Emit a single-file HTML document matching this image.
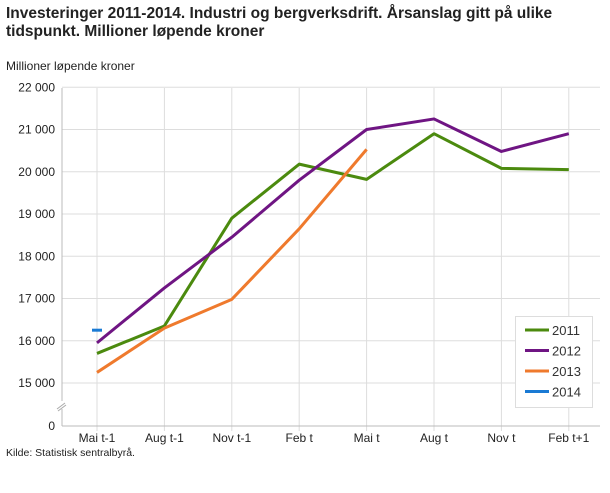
<!DOCTYPE html>
<html><head><meta charset="utf-8"><style>
body{margin:0;background:#fff;font-family:"Liberation Sans","DejaVu Sans",sans-serif;}
svg text{font-family:"Liberation Sans","DejaVu Sans",sans-serif;}
</style></head><body>
<svg width="610" height="488" viewBox="0 0 610 488" id="c">
<text x="6" y="18" font-size="15.5" font-weight="bold" fill="#222">Investeringer 2011-2014. Industri og bergverksdrift. Årsanslag gitt på ulike</text>
<text x="6" y="36" font-size="15.5" font-weight="bold" fill="#222">tidspunkt. Millioner løpende kroner</text>
<text x="6" y="70" font-size="12" fill="#222">Millioner løpende kroner</text>
<text x="6" y="456" font-size="10.5" fill="#222">Kilde: Statistisk sentralbyrå.</text>
<g id="grid"></g><g id="series"></g>
<g>
<rect x="515.5" y="316.5" width="77" height="91" fill="#fff" stroke="#ddd"/>
<g id="leg"></g></g>
</svg>
<script>
const categories=["Mai t-1","Aug t-1","Nov t-1","Feb t","Mai t","Aug t","Nov t","Feb t+1"];
const yTicks=[0,15000,16000,17000,18000,19000,20000,21000,22000];
const yTickLabels=["0","15 000","16 000","17 000","18 000","19 000","20 000","21 000","22 000"];
const seriesNames=["2011","2012","2013","2014"];
const seriesColors=["#4b8a0e","#6f1583","#ef7a2d","#1a7ad4"];
const s2011=[15700,16350,18900,20180,19820,20900,20080,20050];
const s2012=[15950,17250,18450,19800,21000,21250,20480,20900];
const s2013=[15250,16300,16980,18650,20530];
const s2014=[16250];
const NS="http://www.w3.org/2000/svg";
function x(i){return 97+i*67.4;}
function y(v){return v<15000?426-(v/15000)*43:383-(v-15000)*0.04225;}
function mk(t,a,p){const e=document.createElementNS(NS,t);for(const k in a)e.setAttribute(k,a[k]);p.appendChild(e);return e;}
const g=document.getElementById('grid');
yTicks.forEach((v,i)=>{
 const l=mk('line',{x1:62,x2:600,y1:y(v),y2:y(v),stroke:"#ddd"},g);
 
 
 const t=mk('text',{x:55,y:y(v)+4,'font-size':12,'text-anchor':'end',fill:'#222'},g);t.textContent=yTickLabels[i];
 
 
});
categories.forEach((c,i)=>{
 const l=mk('line',{x1:x(i),x2:x(i),y1:88,y2:431,stroke:"#ddd"},g);
 
 
 const t=mk('text',{x:x(i),y:442,'font-size':12,'text-anchor':'middle',fill:'#222'},g);t.textContent=c;
 
 
});
mk('line',{x1:62,x2:62,y1:88,y2:426,stroke:"#bbb"},g);
mk('line',{x1:62,x2:600,y1:426,y2:426,stroke:"#bbb"},g);
const br=mk('g',{},g);
mk('rect',{x:55,y:401,width:14,height:8,fill:'#fff'},br);
mk('line',{x1:57,y1:409,x2:65,y2:403,stroke:'#aaa'},br);
mk('line',{x1:58,y1:411,x2:66,y2:405,stroke:'#aaa'},br);
const sg=document.getElementById('series');
[s2011,s2012,s2013].forEach((d,k)=>{
 const p=mk('polyline',{points:d.map((v,i)=>x(i)+','+y(v)).join(' '),fill:'none',stroke:seriesColors[k],'stroke-width':3,'stroke-linejoin':'round'},sg);
 
 
});
s2014.forEach((v,i)=>{
 const p=mk('line',{x1:x(i)-5,x2:x(i)+5,y1:y(v),y2:y(v),stroke:seriesColors[3],'stroke-width':3},sg);
 
 
});
const lg=document.getElementById('leg');
seriesNames.forEach((n,k)=>{
 const yy=330+k*20.5;
 const it=mk('g',{},lg);
 
 
 mk('line',{x1:525,x2:549,y1:yy,y2:yy,stroke:seriesColors[k],'stroke-width':3},it);
 const t=mk('text',{x:552,y:yy+5,'font-size':13,fill:'#333'},it);t.textContent=n;
});
</script>
</body></html>
